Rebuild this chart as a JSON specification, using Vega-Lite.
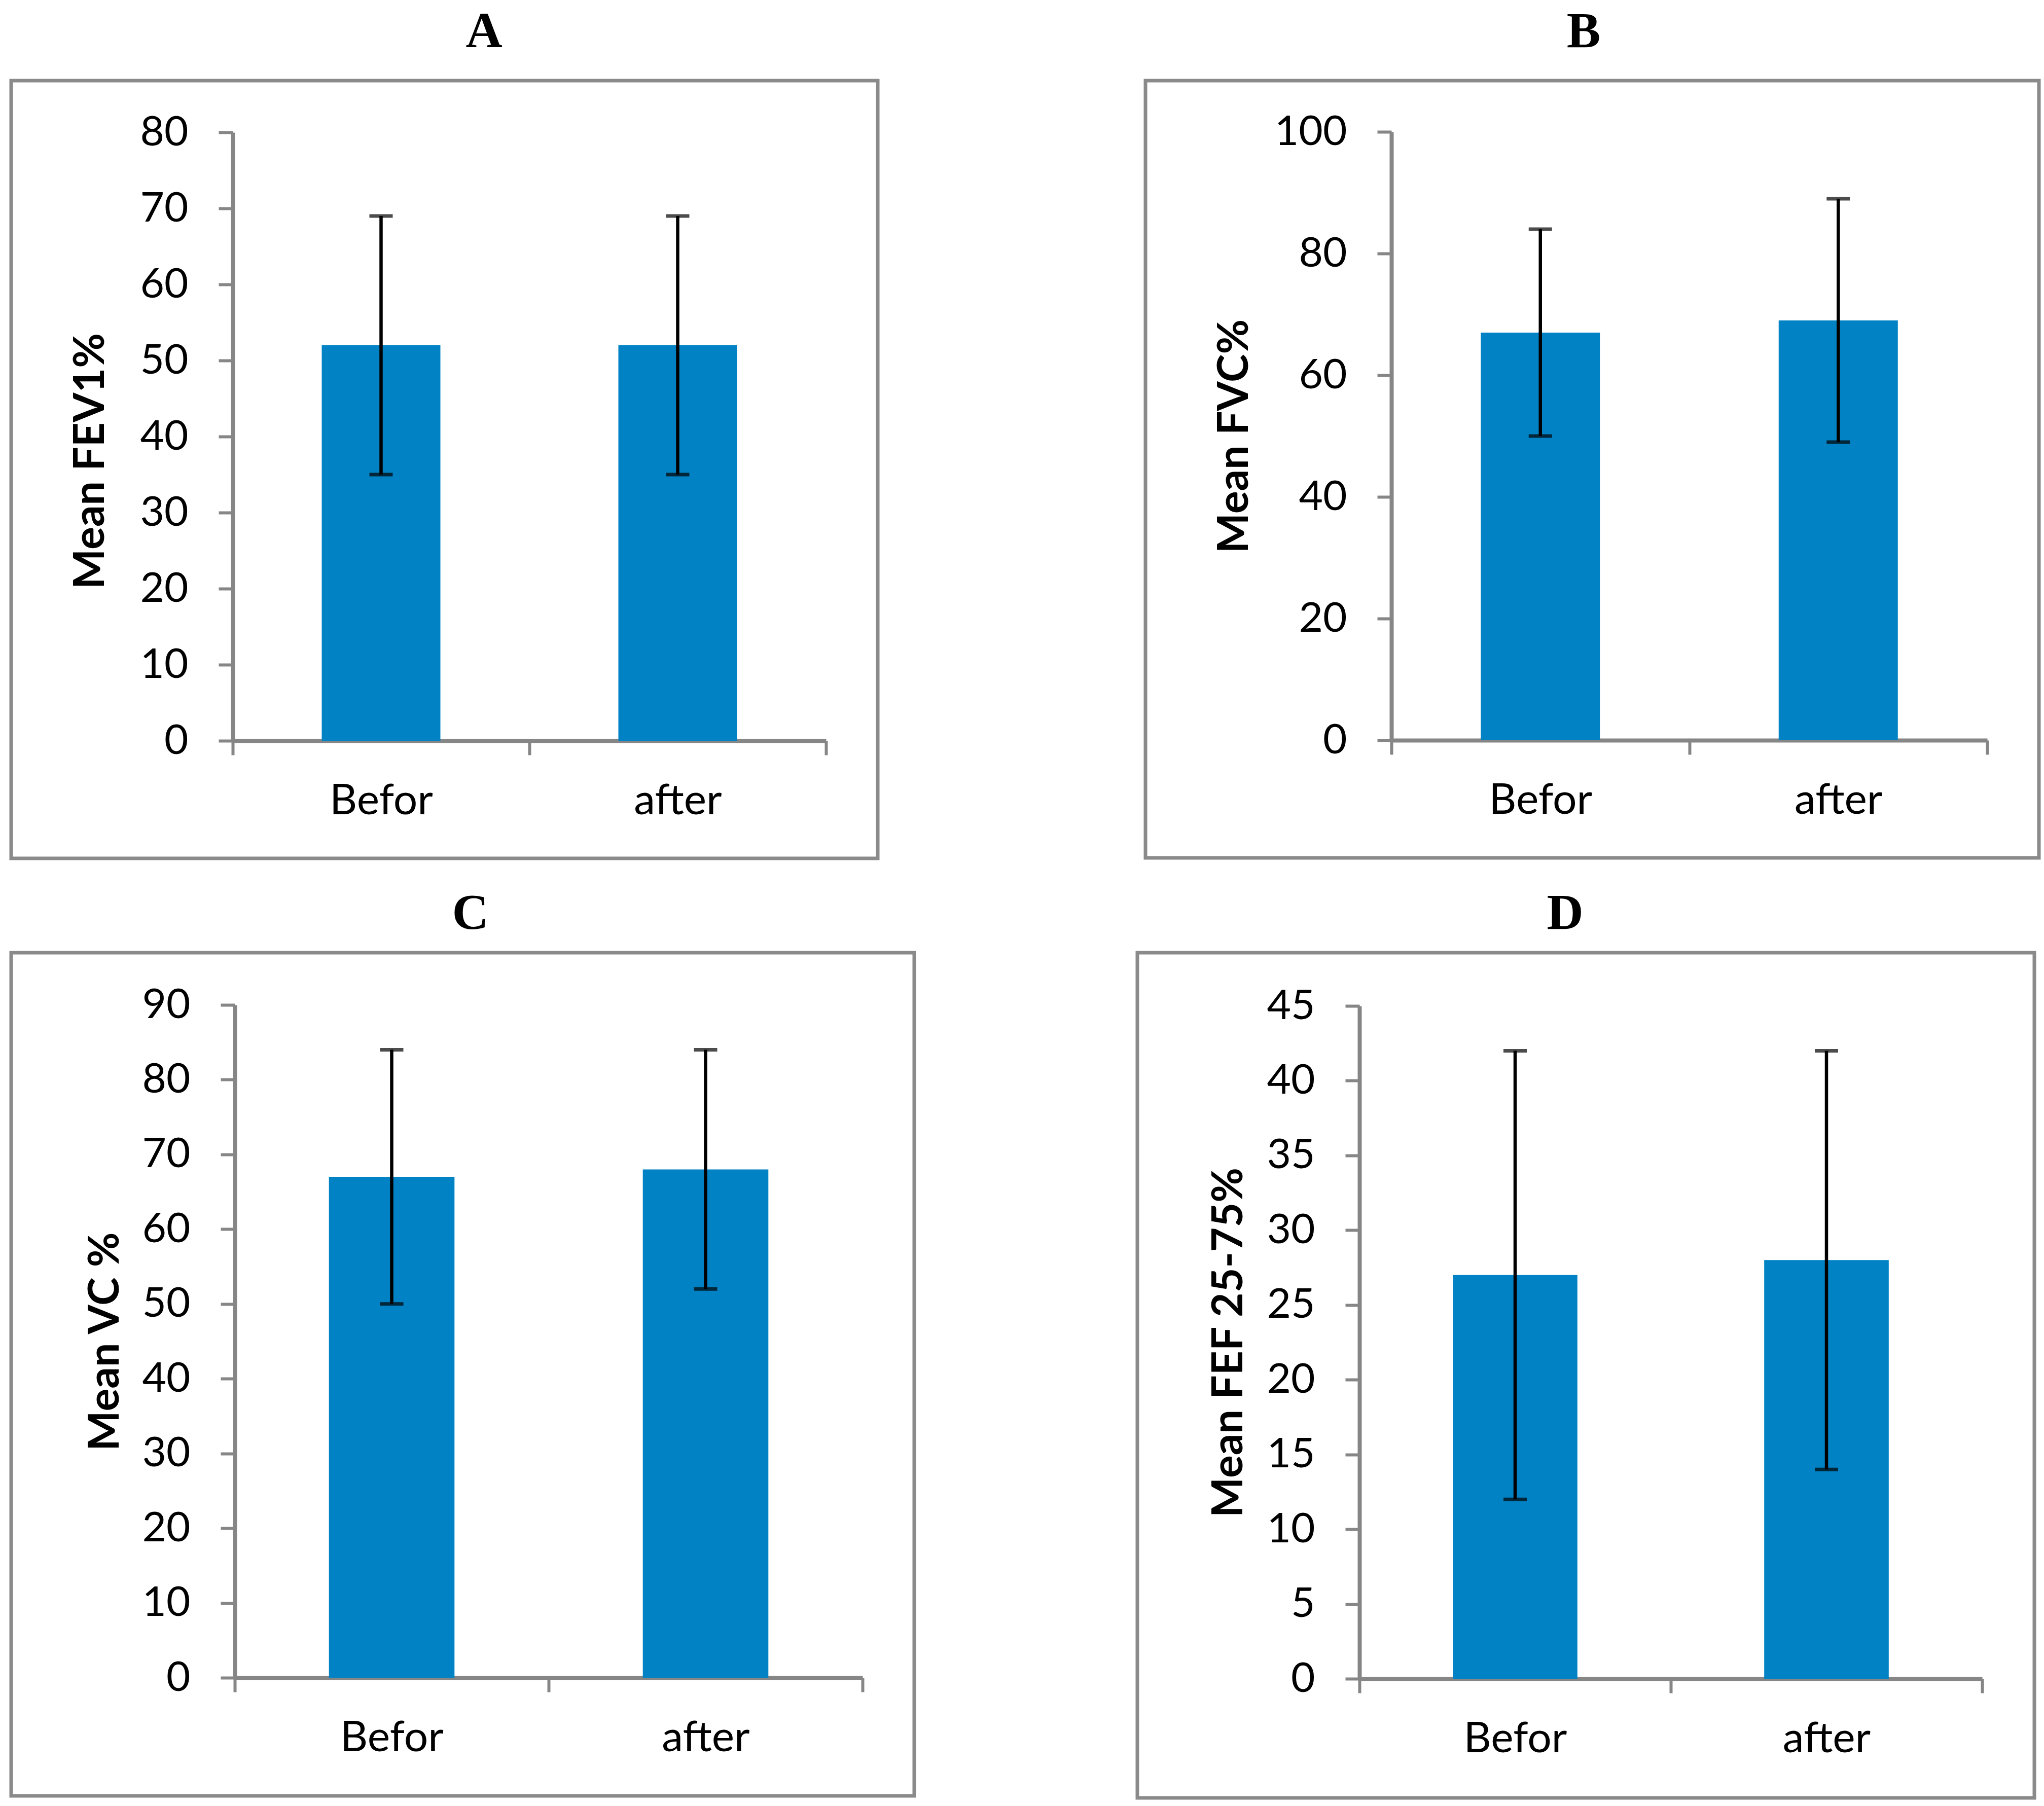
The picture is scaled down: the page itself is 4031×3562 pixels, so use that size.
{
  "$schema": "https://vega.github.io/schema/vega-lite/v6.json",
  "padding": {"left": 18, "top": 9, "right": 10, "bottom": 4},
  "background": "white",
  "data": {"values": [
    {"panel": "A", "group": "Befor", "mean": 52, "low": 35, "high": 69},
    {"panel": "A", "group": "after", "mean": 52, "low": 35, "high": 69},
    {"panel": "B", "group": "Befor", "mean": 67, "low": 50, "high": 84},
    {"panel": "B", "group": "after", "mean": 69, "low": 49, "high": 89},
    {"panel": "C", "group": "Befor", "mean": 67, "low": 50, "high": 84},
    {"panel": "C", "group": "after", "mean": 68, "low": 52, "high": 84},
    {"panel": "D", "group": "Befor", "mean": 27, "low": 12, "high": 42},
    {"panel": "D", "group": "after", "mean": 28, "low": 14, "high": 42}
  ]},
  "spacing": 51,
  "vconcat": [
    {
      "spacing": 520,
      "hconcat": [
        {
          "title": {"text": "A", "dx": 78, "offset": 45},
          "width": 1709, "height": 1534,
          "transform": [{"filter": "datum.panel === 'A'"}],
          "encoding": {"x": {"field": "group", "type": "nominal", "sort": null, "title": null,
            "scale": {"range": [437, 1607], "paddingInner": 0, "paddingOuter": 0},
            "axis": {"offset": -232}}},
          "layer": [
            {"mark": {"type": "bar", "width": {"band": 0.4}, "color": "#0082C4"},
             "encoding": {"y": {"field": "mean", "type": "quantitative", "title": "Mean FEV1%",
               "scale": {"domain": [0, 80], "range": [1302, 102], "nice": false},
               "axis": {"values": [0, 10, 20, 30, 40, 50, 60, 70, 80], "offset": -437, "titlePadding": 53, "titleY": 750}}}},
            {"mark": {"type": "rule", "color": "black", "strokeWidth": 6.5},
             "encoding": {"y": {"field": "low", "type": "quantitative", "title": "Mean FEV1%", "scale": {"domain": [0, 80], "range": [1302, 102], "nice": false}}, "y2": {"field": "high"}}},
            {"mark": {"type": "tick", "orient": "horizontal", "color": "black", "thickness": 7, "size": 46},
             "encoding": {"y": {"field": "low", "type": "quantitative", "title": "Mean FEV1%", "scale": {"domain": [0, 80], "range": [1302, 102], "nice": false}}}},
            {"mark": {"type": "tick", "orient": "horizontal", "color": "black", "thickness": 7, "size": 46},
             "encoding": {"y": {"field": "high", "type": "quantitative", "title": "Mean FEV1%", "scale": {"domain": [0, 80], "range": [1302, 102], "nice": false}}}}
          ]
        },
        {
          "title": {"text": "B", "dx": -17, "offset": 45},
          "width": 1762, "height": 1533,
          "transform": [{"filter": "datum.panel === 'B'"}],
          "encoding": {"x": {"field": "group", "type": "nominal", "sort": null, "title": null,
            "scale": {"range": [485, 1660], "paddingInner": 0, "paddingOuter": 0},
            "axis": {"offset": -232}}},
          "layer": [
            {"mark": {"type": "bar", "width": {"band": 0.4}, "color": "#0082C4"},
             "encoding": {"y": {"field": "mean", "type": "quantitative", "title": "Mean FVC%",
               "scale": {"domain": [0, 100], "range": [1301, 101], "nice": false},
               "axis": {"values": [0, 20, 40, 60, 80, 100], "offset": -485, "titlePadding": 66}}}},
            {"mark": {"type": "rule", "color": "black", "strokeWidth": 6.5},
             "encoding": {"y": {"field": "low", "type": "quantitative", "title": "Mean FVC%", "scale": {"domain": [0, 100], "range": [1301, 101], "nice": false}}, "y2": {"field": "high"}}},
            {"mark": {"type": "tick", "orient": "horizontal", "color": "black", "thickness": 7, "size": 46},
             "encoding": {"y": {"field": "low", "type": "quantitative", "title": "Mean FVC%", "scale": {"domain": [0, 100], "range": [1301, 101], "nice": false}}}},
            {"mark": {"type": "tick", "orient": "horizontal", "color": "black", "thickness": 7, "size": 46},
             "encoding": {"y": {"field": "high", "type": "quantitative", "title": "Mean FVC%", "scale": {"domain": [0, 100], "range": [1301, 101], "nice": false}}}}
          ]
        }
      ]
    },
    {
      "spacing": 432,
      "hconcat": [
        {
          "title": {"text": "C", "dx": 15, "offset": 26},
          "width": 1781, "height": 1663,
          "transform": [{"filter": "datum.panel === 'C'"}],
          "encoding": {"x": {"field": "group", "type": "nominal", "sort": null, "title": null,
            "scale": {"range": [441, 1679], "paddingInner": 0, "paddingOuter": 0},
            "axis": {"offset": -233}}},
          "layer": [
            {"mark": {"type": "bar", "width": {"band": 0.4}, "color": "#0082C4"},
             "encoding": {"y": {"field": "mean", "type": "quantitative", "title": "Mean VC %",
               "scale": {"domain": [0, 90], "range": [1430, 103], "nice": false},
               "axis": {"values": [0, 10, 20, 30, 40, 50, 60, 70, 80, 90], "offset": -441, "titlePadding": 28}}}},
            {"mark": {"type": "rule", "color": "black", "strokeWidth": 6.5},
             "encoding": {"y": {"field": "low", "type": "quantitative", "title": "Mean VC %", "scale": {"domain": [0, 90], "range": [1430, 103], "nice": false}}, "y2": {"field": "high"}}},
            {"mark": {"type": "tick", "orient": "horizontal", "color": "black", "thickness": 7, "size": 46},
             "encoding": {"y": {"field": "low", "type": "quantitative", "title": "Mean VC %", "scale": {"domain": [0, 90], "range": [1430, 103], "nice": false}}}},
            {"mark": {"type": "tick", "orient": "horizontal", "color": "black", "thickness": 7, "size": 46},
             "encoding": {"y": {"field": "high", "type": "quantitative", "title": "Mean VC %", "scale": {"domain": [0, 90], "range": [1430, 103], "nice": false}}}}
          ]
        },
        {
          "title": {"text": "D", "dx": -41, "offset": 26},
          "width": 1769, "height": 1667,
          "transform": [{"filter": "datum.panel === 'D'"}],
          "encoding": {"x": {"field": "group", "type": "nominal", "sort": null, "title": null,
            "scale": {"range": [438, 1666], "paddingInner": 0, "paddingOuter": 0},
            "axis": {"offset": -235}}},
          "layer": [
            {"mark": {"type": "bar", "width": {"band": 0.4}, "color": "#0082C4"},
             "encoding": {"y": {"field": "mean", "type": "quantitative", "title": "Mean FEF 25-75%",
               "scale": {"domain": [0, 45], "range": [1432, 105], "nice": false},
               "axis": {"values": [0, 5, 10, 15, 20, 25, 30, 35, 40, 45], "offset": -438, "titlePadding": 30}}}},
            {"mark": {"type": "rule", "color": "black", "strokeWidth": 6.5},
             "encoding": {"y": {"field": "low", "type": "quantitative", "title": "Mean FEF 25-75%", "scale": {"domain": [0, 45], "range": [1432, 105], "nice": false}}, "y2": {"field": "high"}}},
            {"mark": {"type": "tick", "orient": "horizontal", "color": "black", "thickness": 7, "size": 46},
             "encoding": {"y": {"field": "low", "type": "quantitative", "title": "Mean FEF 25-75%", "scale": {"domain": [0, 45], "range": [1432, 105], "nice": false}}}},
            {"mark": {"type": "tick", "orient": "horizontal", "color": "black", "thickness": 7, "size": 46},
             "encoding": {"y": {"field": "high", "type": "quantitative", "title": "Mean FEF 25-75%", "scale": {"domain": [0, 45], "range": [1432, 105], "nice": false}}}}
          ]
        }
      ]
    }
  ],
  "config": {
    "view": {"stroke": "#8a8a8a", "strokeWidth": 7},
    "axis": {
      "domainColor": "#868686", "domainWidth": 8,
      "tickColor": "#868686", "tickWidth": 6, "tickSize": 28,
      "labelFont": "Lato", "labelFontSize": 82, "labelColor": "#000000", "labelPadding": 60, "labelLimit": 0,
      "titleFont": "Lato", "titleFontWeight": "bold", "titleFontSize": 84, "titleColor": "#000000", "titleLimit": 0,
      "grid": false
    },
    "axisX": {"labelFontSize": 84, "labelPadding": 50, "labelAngle": 0, "tickBand": "extent"},
    "title": {"font": "Liberation Serif", "fontSize": 100, "fontWeight": "bold", "color": "#000000", "anchor": "middle", "baseline": "alphabetic"}
  }
}
